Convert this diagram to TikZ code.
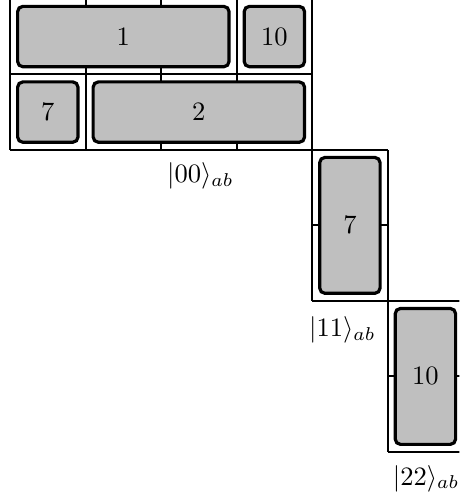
\documentclass[tikz,border=0pt]{standalone}
\usepackage{amsmath, amssymb}
\usepackage{tikz}

\tikzset{
    cellbox/.style={draw, very thick, rounded corners=2pt, fill=gray!50, inner sep=0pt},
    statelabel/.style={inner sep=0pt}
}

\begin{document}
\begin{tikzpicture}
    % Fix the visible region
    \clip (-0.133,-0.016) rectangle (5.95,-6.61);
    \useasboundingbox (-0.133,-0.016) rectangle (5.95,-6.61);

    % Draw grids of the three blocks
    \draw[thick] (0,0) grid (4,-2);
    \draw[thick] (4,-2) grid (5,-4);
    \draw[thick] (5,-4) grid (6,-6);

    % Draw boxes of block 00
    \node[cellbox, minimum width=2.8cm, minimum height=0.8cm] (one) at (1.5,-0.5) {$1$};
    \node[cellbox, minimum width=0.8cm, minimum height=0.8cm] (ten) at (3.5,-0.5) {$10$};
    \node[cellbox, minimum width=0.8cm, minimum height=0.8cm] (seven) at (0.5,-1.5) {$7$};
    \node[cellbox, minimum width=2.8cm, minimum height=0.8cm] (two) at (2.5,-1.5) {$2$};

    % Draw boxes of blocks 11 and 22
    \node[cellbox, minimum width=0.8cm, minimum height=1.8cm] (sevenB) at (4.5,-3) {$7$};
    \node[cellbox, minimum width=0.8cm, minimum height=1.8cm] (tenC) at (5.5,-5) {$10$};

    % Add the state labels
    \node[statelabel] (s00) at (2.52,-2.35) {$|00\rangle_{ab}$};
    \node[statelabel] (s11) at (4.40,-4.39) {$|11\rangle_{ab}$};
    \node[statelabel] (s22) at (5.51,-6.35) {$|22\rangle_{ab}$};
\end{tikzpicture}
\end{document}
